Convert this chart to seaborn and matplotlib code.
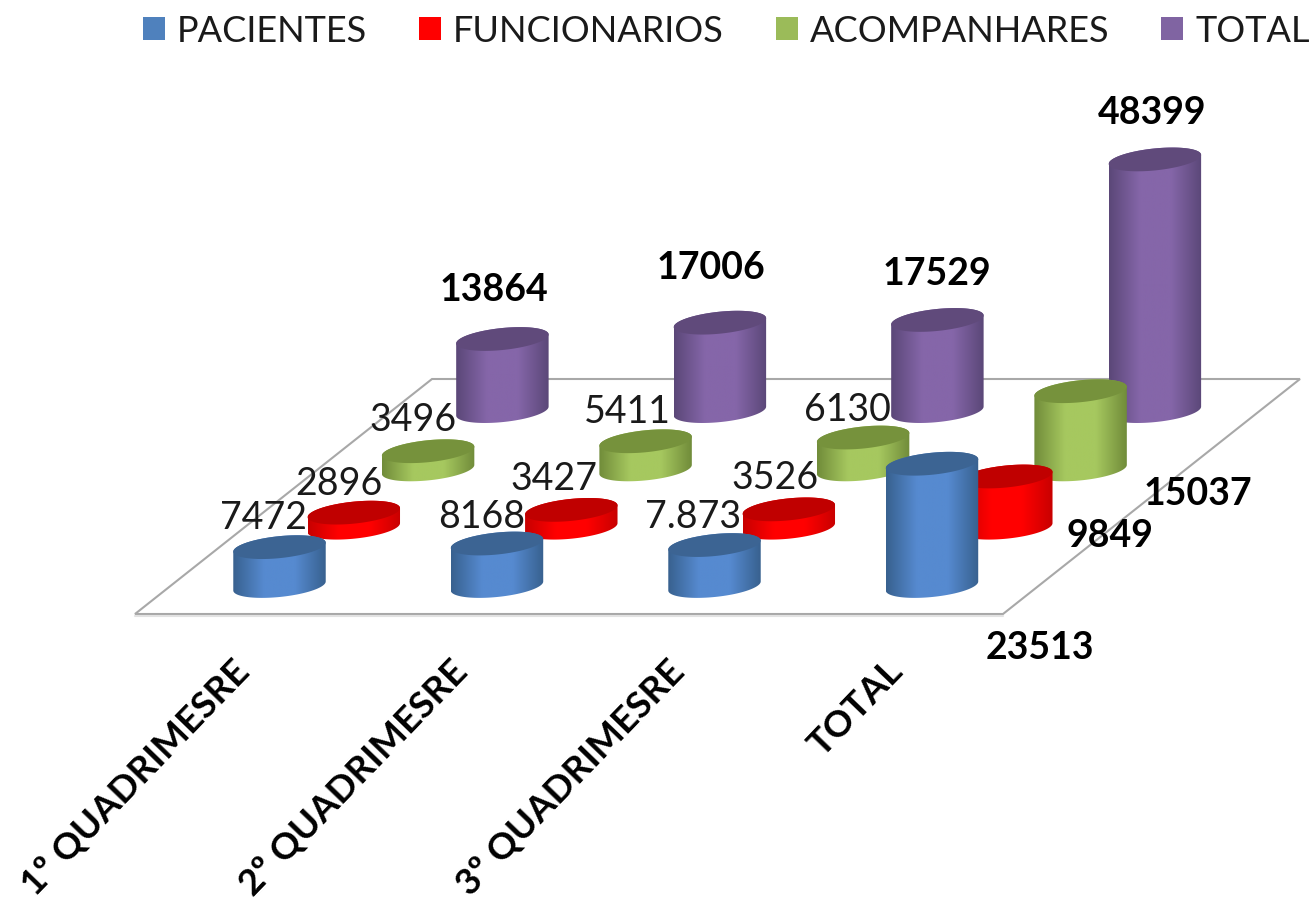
import numpy as np
import pandas as pd
import matplotlib
matplotlib.use("Agg")
import matplotlib.pyplot as plt
import seaborn as sns
from matplotlib.patches import Patch, Polygon

# chart values
categories = ["1º QUADRIMESRE", "2º QUADRIMESRE", "3º QUADRIMESRE", "TOTAL"]
series_names = ["PACIENTES", "FUNCIONARIOS", "ACOMPANHARES", "TOTAL"]
pacientes = [7472, 8168, 7873, 23513]
funcionarios = [2896, 3427, 3526, 9849]
acompanhantes = [3496, 5411, 6130, 15037]
total = [13864, 17006, 17529, 48399]
pacientes_labels = ["7472", "8168", "7.873", "23513"]
funcionarios_labels = ["2896", "3427", "3526", "9849"]
acompanhantes_labels = ["3496", "5411", "6130", "15037"]
total_labels = ["13864", "17006", "17529", "48399"]

# style: edge shade, centre shade, top shade
edge_colors = ["#38618f", "#c80000", "#718c3a", "#5b4778"]
centre_colors = ["#568ad0", "#ff0000", "#a6c85f", "#8566a9"]
top_colors = ["#3c6493", "#c00000", "#76923c", "#604a7b"]
legend_colors = ["#4f81bd", "#ff0000", "#9bbb59", "#8064a2"]

# label offsets from the top of each bar, pixels (x right, y down)
label_offsets = [
    [(-16, -30), (-15, -28), (-21, -29), (108, 183)],
    [(-15, -30), (-17, -32), (-14, -32), (104, 59)],
    [(-15, -32), (-18, -30), (-16, -29), (117, 102)],
    [(-8, -50), (-9, -56), (-1, -47), (-3, -47)],
]

W, H = 1310, 904
PX_PER_UNIT = 0.0052
CAT_STEP = 217.5
YMAX = 50000
HALF_ELLIPSE = 11 / PX_PER_UNIT
TILT = 4.5 / PX_PER_UNIT

sns.set_theme(style="white")
plt.rcParams["font.family"] = ["Lato", "DejaVu Sans"]

fig = plt.figure(figsize=(W / 100, H / 100), dpi=100, facecolor="white")

# floor of the chart
floor = fig.add_axes([0, 0, 1, 1], zorder=0)
floor.set_xlim(0, W)
floor.set_ylim(H, 0)
floor.axis("off")
floor.add_patch(Polygon([(135, 615), (1003, 615), (1300, 380), (432, 380)],
                        facecolor="white", edgecolor="#a8a8a8", lw=1.5))
floor.plot([135, 1003], [617, 617], color="#e2e2e2", lw=1.5)


def series_axes(s):
    left = 170.75 + 74.3 * s
    base = 587 - 58.3 * s
    height = YMAX * PX_PER_UNIT
    ax = fig.add_axes([left / W, (H - base) / H, 4 * CAT_STEP / W, height / H], zorder=4 - s)
    ax.patch.set_alpha(0)
    return ax


def draw_cylinders(ax, data, s):
    sns.barplot(data=data, x="categoria", y="valor", color=centre_colors[s],
                saturation=1, width=0.425, ax=ax)
    cmap = sns.blend_palette([edge_colors[s], centre_colors[s], centre_colors[s], edge_colors[s]],
                             as_cmap=True)
    for bar in list(ax.patches):
        x0 = bar.get_x()
        w = bar.get_width()
        v = bar.get_height()
        bar.set_visible(False)
        xc = x0 + w / 2
        t1 = np.linspace(np.pi, 2 * np.pi, 60)
        t2 = np.linspace(0, np.pi, 60)
        lower = np.column_stack([xc + w / 2 * np.cos(t1),
                                 HALF_ELLIPSE * np.sin(t1) + TILT * np.cos(t1)])
        upper = np.column_stack([xc + w / 2 * np.cos(t2),
                                 v + HALF_ELLIPSE * np.sin(t2) + TILT * np.cos(t2)])
        body = Polygon(np.vstack([lower, upper]), transform=ax.transData, facecolor="none", lw=0)
        ax.add_patch(body)
        body.set_clip_on(False)
        im = ax.imshow(np.linspace(0, 1, 200)[None, :], cmap=cmap, aspect="auto",
                       extent=(x0, x0 + w, -HALF_ELLIPSE * 2, v + HALF_ELLIPSE * 2), zorder=2)
        # the image would otherwise stop at the axes box, under the bottom curve
        im.set_clip_box(fig.bbox)
        im.set_clip_path(body)
        t = np.linspace(0, 2 * np.pi, 120)
        top = np.column_stack([xc + w / 2 * np.cos(t),
                               v + HALF_ELLIPSE * np.sin(t) + TILT * np.cos(t)])
        ax.add_patch(Polygon(top, facecolor=top_colors[s], lw=0, zorder=3, clip_on=False))
    ax.set_xlim(-0.5, 3.5)
    ax.set_ylim(0, YMAX)
    ax.axis("off")


all_values = [pacientes, funcionarios, acompanhantes, total]
all_labels = [pacientes_labels, funcionarios_labels, acompanhantes_labels, total_labels]
axes = []
for s in [3, 2, 1, 0]:
    df = pd.DataFrame({"categoria": categories, "valor": all_values[s]})
    ax = series_axes(s)
    draw_cylinders(ax, df, s)
    axes.append((s, ax))
front = axes[-1][1]

# value labels, all written on the front axes so nothing covers them
for s, ax in axes:
    for i, txt in enumerate(all_labels[s]):
        bold = i == 3 or s == 3
        off = label_offsets[s][i]
        front.annotate(txt, xy=(i, all_values[s][i]), xycoords=ax.transData,
                       xytext=(off[0], -off[1]), textcoords="offset pixels",
                       ha="center", va="center", fontsize=27, color="#1a1a1a" if not bold else "black",
                       fontweight="bold" if bold else "normal", zorder=10)

# category labels
for i, cat in enumerate(categories):
    front.annotate(cat, xy=(i, 0), xycoords=front.transData,
                   xytext=(-35, -79), textcoords="offset pixels",
                   rotation=46, rotation_mode="anchor", ha="right", va="center",
                   fontsize=26.5, fontweight="bold", color="black")

handles = [Patch(facecolor=c, edgecolor="none") for c in legend_colors]
fig.legend(handles, series_names, loc="upper left", bbox_to_anchor=(143 / W, 1 - 15 / H), ncol=4,
           frameon=False, fontsize=26, handlelength=0.61, handleheight=0.61, borderpad=0,
           borderaxespad=0, handletextpad=0.33, columnspacing=1.44, labelcolor="#1a1a1a")

fig.savefig("out.png", dpi=100, facecolor="white")
